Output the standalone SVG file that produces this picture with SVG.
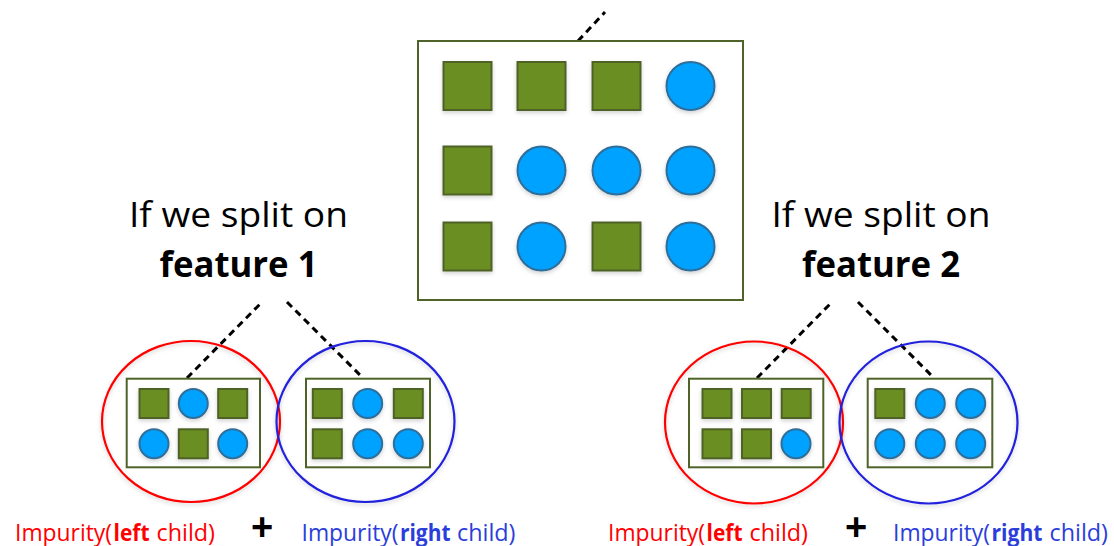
<svg xmlns="http://www.w3.org/2000/svg" width="1114" height="546" viewBox="0 0 1114 546">
<defs>
  <filter id="sh" x="-20%" y="-20%" width="140%" height="140%">
    <feDropShadow dx="0" dy="2" stdDeviation="2" flood-color="#000" flood-opacity="0.18"/>
  </filter>
  <style>
    .box{fill:#fff;stroke:#4F6228;stroke-width:2}
    .sq{fill:#6B8E23;stroke:#4F6228;stroke-width:2}
    .ci{fill:#00A2FF;stroke:#2F6E9A;stroke-width:2}
    .dash{stroke:#000;stroke-width:3;stroke-dasharray:7 5;fill:none}
    .red{fill:none;stroke:#FF0000;stroke-width:2.2}
    .blue{fill:none;stroke:#2020DD;stroke-width:2.2}
    .title{font-family:"Open Sans","Noto Sans",sans-serif;font-size:35px;fill:#000;text-anchor:middle}
    .lab{font-family:"Open Sans","Noto Sans",sans-serif;font-size:24px}
    .r{fill:#FF0000}
    .b{fill:#2B3EDB}
    .bold{font-weight:bold}
    .plus{font-family:"Liberation Sans",Arial,sans-serif;font-weight:bold;font-size:38px;fill:#000;text-anchor:middle}
  </style>
</defs>
<rect width="1114" height="546" fill="#fff"/>

<g id="connectors">
  <line class="dash" x1="578" y1="41" x2="605" y2="12"/>
  <line class="dash" x1="187" y1="378" x2="262" y2="302"/>
  <line class="dash" x1="287" y1="302" x2="363" y2="378"/>
  <line class="dash" x1="757" y1="378" x2="832" y2="302"/>
  <line class="dash" x1="858" y1="302" x2="934" y2="378"/>
</g>

<g id="root">
  <rect class="box" x="418" y="41" width="325" height="259"/>
  <g filter="url(#sh)">
    <rect class="sq" x="443.5" y="62" width="48" height="48"/>
    <rect class="sq" x="517.5" y="62" width="48" height="48"/>
    <rect class="sq" x="592.5" y="62" width="48" height="48"/>
    <circle class="ci" cx="690.5" cy="86" r="24"/>
    <rect class="sq" x="443.5" y="146.5" width="48" height="48"/>
    <circle class="ci" cx="541.5" cy="170.5" r="24"/>
    <circle class="ci" cx="616.5" cy="170.5" r="24"/>
    <circle class="ci" cx="690.5" cy="170.5" r="24"/>
    <rect class="sq" x="443.5" y="222.5" width="48" height="48"/>
    <circle class="ci" cx="541.5" cy="246.5" r="24"/>
    <rect class="sq" x="592.5" y="222.5" width="48" height="48"/>
    <circle class="ci" cx="690.5" cy="246.5" r="24"/>
  </g>
</g>

<g id="f1-left">
  <ellipse class="red" cx="191" cy="421.5" rx="89" ry="80.5" filter="url(#sh)"/>
  <rect class="box" x="126.7" y="378.7" width="133.3" height="88.6"/>
  <g filter="url(#sh)">
    <rect class="sq" x="139.5" y="389" width="29" height="29"/>
    <circle class="ci" cx="193.3" cy="403.5" r="14.5"/>
    <rect class="sq" x="218.2" y="389" width="29" height="29"/>
    <circle class="ci" cx="154" cy="443.8" r="14.5"/>
    <rect class="sq" x="178.8" y="429.3" width="29" height="29"/>
    <circle class="ci" cx="232.7" cy="443.8" r="14.5"/>
  </g>
</g>

<g id="f1-right">
  <ellipse class="blue" cx="365.5" cy="421.5" rx="89" ry="80.5" filter="url(#sh)"/>
  <rect class="box" x="306" y="378.7" width="124" height="88.6"/>
  <g filter="url(#sh)">
    <rect class="sq" x="312.8" y="389" width="29" height="29"/>
    <circle class="ci" cx="367.7" cy="403.5" r="14.5"/>
    <rect class="sq" x="393.8" y="389" width="29" height="29"/>
    <rect class="sq" x="312.8" y="429.3" width="29" height="29"/>
    <circle class="ci" cx="367.7" cy="443.8" r="14.5"/>
    <circle class="ci" cx="408.3" cy="443.8" r="14.5"/>
  </g>
</g>

<g id="f2-left">
  <ellipse class="red" cx="754" cy="422.5" rx="89" ry="81" filter="url(#sh)"/>
  <rect class="box" x="689" y="378.7" width="134.3" height="88.6"/>
  <g filter="url(#sh)">
    <rect class="sq" x="702.5" y="389" width="29" height="29"/>
    <rect class="sq" x="742" y="389" width="29" height="29"/>
    <rect class="sq" x="781.7" y="389" width="29" height="29"/>
    <rect class="sq" x="702.5" y="429.3" width="29" height="29"/>
    <rect class="sq" x="742" y="429.3" width="29" height="29"/>
    <circle class="ci" cx="796" cy="443.8" r="14.5"/>
  </g>
</g>

<g id="f2-right">
  <ellipse class="blue" cx="928.5" cy="422.5" rx="89" ry="81" filter="url(#sh)"/>
  <rect class="box" x="867.7" y="378.7" width="124.6" height="88.6"/>
  <g filter="url(#sh)">
    <rect class="sq" x="875.3" y="389" width="29" height="29"/>
    <circle class="ci" cx="930.3" cy="403.5" r="14.5"/>
    <circle class="ci" cx="970.7" cy="403.5" r="14.5"/>
    <circle class="ci" cx="889.8" cy="443.8" r="14.5"/>
    <circle class="ci" cx="930.3" cy="443.8" r="14.5"/>
    <circle class="ci" cx="970.7" cy="443.8" r="14.5"/>
  </g>
</g>

<g id="title-left">
  <text class="title" x="238.5" y="227" textLength="219" lengthAdjust="spacingAndGlyphs">If we split on</text>
  <text class="title bold" x="238.5" y="277" textLength="158" lengthAdjust="spacingAndGlyphs">feature 1</text>
</g>
<g id="title-right">
  <text class="title" x="881" y="227" textLength="219" lengthAdjust="spacingAndGlyphs">If we split on</text>
  <text class="title bold" x="881" y="277" textLength="158" lengthAdjust="spacingAndGlyphs">feature 2</text>
</g>

<g id="formula-left">
  <text class="lab r" x="15" y="541" textLength="97" lengthAdjust="spacingAndGlyphs">Impurity(</text>
  <text class="lab r bold" x="113.5" y="541" textLength="36" lengthAdjust="spacingAndGlyphs">left</text>
  <text class="lab r" x="156.5" y="541" textLength="58.5" lengthAdjust="spacingAndGlyphs">child)</text>
  <text class="plus" x="262" y="539.5">+</text>
  <text class="lab b" x="301.5" y="541" textLength="97" lengthAdjust="spacingAndGlyphs">Impurity(</text>
  <text class="lab b bold" x="400" y="541" textLength="50.5" lengthAdjust="spacingAndGlyphs">right</text>
  <text class="lab b" x="457" y="541" textLength="58.5" lengthAdjust="spacingAndGlyphs">child)</text>
</g>
<g id="formula-right">
  <text class="lab r" x="608" y="541" textLength="97" lengthAdjust="spacingAndGlyphs">Impurity(</text>
  <text class="lab r bold" x="706.5" y="541" textLength="36" lengthAdjust="spacingAndGlyphs">left</text>
  <text class="lab r" x="749.5" y="541" textLength="58.5" lengthAdjust="spacingAndGlyphs">child)</text>
  <text class="plus" x="856" y="539.5">+</text>
  <text class="lab b" x="893" y="541" textLength="97" lengthAdjust="spacingAndGlyphs">Impurity(</text>
  <text class="lab b bold" x="991.5" y="541" textLength="51" lengthAdjust="spacingAndGlyphs">right</text>
  <text class="lab b" x="1049.5" y="541" textLength="58.5" lengthAdjust="spacingAndGlyphs">child)</text>
</g>
</svg>
